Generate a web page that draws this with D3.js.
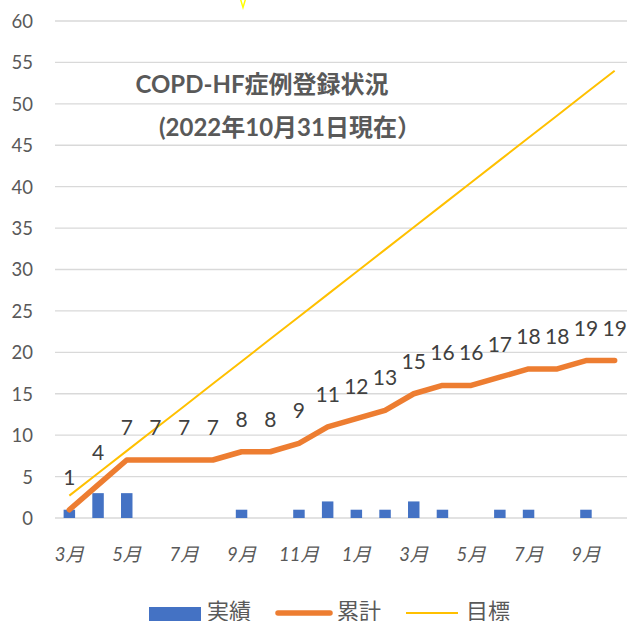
<!DOCTYPE html>
<html><head><meta charset="utf-8">
<script src="https://cdn.jsdelivr.net/npm/d3@7"></script>
<style>
html,body{margin:0;padding:0;background:#fff;}
svg{display:block;}
</style></head>
<body><svg id="c" width="627" height="621"></svg>
<script>
const months = ["3月","4月","5月","6月","7月","8月","9月","10月","11月","12月","1月","2月","3月","4月","5月","6月","7月","8月","9月","10月"];
const actual = [1,3,3,0,0,0,1,0,1,2,1,1,2,1,0,1,1,0,1,0];
const cumulative = [1,4,7,7,7,7,8,8,9,11,12,13,15,16,16,17,18,18,19,19];
const target = [2.7,5.4,8.1,10.8,13.5,16.2,18.9,21.6,24.3,27,29.7,32.4,35.1,37.8,40.5,43.2,45.9,48.6,51.3,54];
const yTicks = [0,5,10,15,20,25,30,35,40,45,50,55,60];
const legendLabels = ["実績","累計","目標"];
const titleLines = ["COPD-HF症例登録状況","(2022年10月31日現在）"];

const svg = d3.select("#c");
const idx = months.map((m,i)=>i);
const x = d3.scaleBand().domain(idx).range([55,629]);
const y = d3.scaleLinear().domain([0,60]).range([518,21]);
const cx = i => x(i) + x.bandwidth()/2;
const font = "Lato, 'Noto Sans CJK JP', sans-serif";

// gridlines
svg.append("g").selectAll("line").data(yTicks).join("line")
  .attr("x1",55).attr("x2",627)
  .attr("y1",d=>y(d)).attr("y2",d=>y(d))
  .attr("stroke","#d9d9d9").attr("stroke-width",1.3);

// y axis labels
const yAxis = d3.axisLeft(y).tickValues(yTicks).tickSize(0).tickPadding(0);
const ga = svg.append("g").attr("transform","translate(33,0)").call(yAxis);
ga.select(".domain").remove();
ga.selectAll("text").attr("font-family",font).attr("font-size",18.5).attr("fill","#595959").attr("dy","0.35em");

// x axis labels
const xAxis = d3.axisBottom(x).tickValues(idx.filter(i=>i%2===0)).tickFormat(i=>months[i]).tickSize(0).tickPadding(0);
const gx = svg.append("g").attr("transform","translate(0,561)").call(xAxis);
gx.select(".domain").remove();
gx.selectAll("text").attr("font-family",font).attr("font-size",18.5).attr("font-style","italic").attr("fill","#595959").attr("dy",0);

// bars
const bw = x.bandwidth()*0.4;
svg.append("g").selectAll("rect").data(actual).join("rect")
  .attr("x",(d,i)=>cx(i)-bw/2).attr("width",bw)
  .attr("y",d=>y(d)).attr("height",d=>y(0)-y(d))
  .attr("fill","#4472C4");

// target line
svg.append("path").datum(target)
  .attr("d",d3.line().x((d,i)=>cx(i)).y(d=>y(d)))
  .attr("fill","none").attr("stroke","#FFC000").attr("stroke-width",2);

// cumulative line
svg.append("path").datum(cumulative)
  .attr("d",d3.line().x((d,i)=>cx(i)).y(d=>y(d)))
  .attr("fill","none").attr("stroke","#ED7D31").attr("stroke-width",5.5)
  .attr("stroke-linejoin","round").attr("stroke-linecap","round");

// data labels
svg.append("g").selectAll("text").data(cumulative).join("text")
  .attr("x",(d,i)=>cx(i)).attr("y",d=>y(d)-25)
  .attr("text-anchor","middle").attr("font-family",font).attr("font-size",21)
  .attr("fill","#404040").text(d=>d);

// title
svg.append("text").attr("x",262).attr("y",93).attr("text-anchor","middle")
  .attr("font-family",font).attr("font-weight","bold").attr("font-size",24)
  .attr("fill","#595959").text(titleLines[0]);
svg.append("text").attr("x",290).attr("y",136).attr("text-anchor","middle")
  .attr("font-family",font).attr("font-weight","bold").attr("font-size",24)
  .attr("fill","#595959").text(titleLines[1]);

// stray yellow mark at top
svg.append("path").attr("d","M240,0 L243,10 L246,0 L244.5,0 L243,5 L241.5,0 Z").attr("fill","#FFFF00");

// legend
const lg = svg.append("g");
lg.append("rect").attr("x",149).attr("y",607).attr("width",52).attr("height",14).attr("fill","#4472C4");
lg.append("text").attr("x",207).attr("y",619).attr("font-family",font).attr("font-size",22).attr("fill","#595959").text(legendLabels[0]);
lg.append("line").attr("x1",278).attr("x2",330).attr("y1",613).attr("y2",613).attr("stroke","#ED7D31").attr("stroke-width",5.5).attr("stroke-linecap","round");
lg.append("text").attr("x",337).attr("y",619).attr("font-family",font).attr("font-size",22).attr("fill","#595959").text(legendLabels[1]);
lg.append("line").attr("x1",406).attr("x2",458).attr("y1",613).attr("y2",613).attr("stroke","#FFC000").attr("stroke-width",2);
lg.append("text").attr("x",466).attr("y",619).attr("font-family",font).attr("font-size",22).attr("fill","#595959").text(legendLabels[2]);
</script></body></html>
